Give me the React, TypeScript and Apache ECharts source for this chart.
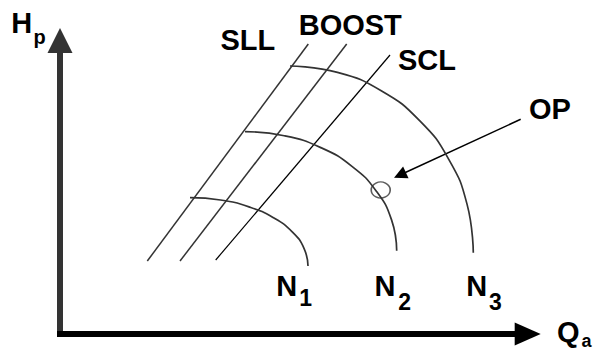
import React, { useEffect, useRef } from 'react';
import * as echarts from 'echarts';

// Schematic units: flow Q and head H, both 0..100 along the axes
const axisMax = 100;

// Surge-control lines (endpoints, bottom-left to top-right)
const lineNames = ['SLL', 'BOOST', 'SCL'];
const sllQ = [18.67, 53.09];
const sllH = [24.87, 98.81];
const boostQ = [25.66, 61.3];
const boostH = [24.87, 98.81];
const sclQ = [33.29, 70.56];
const sclH = [25.21, 95.06];

// Constant-speed curves N1, N2, N3
const speedMain = ['N', 'N', 'N'];
const speedSub = ['1', '2', '3'];
const n1Q = [27.8, 34.32, 40.41, 45.63, 49.65, 52.17, 53.03];
const n1H = [46.44, 45.66, 43.32, 39.63, 34.8, 29.2, 23.17];
const n2Q = [39.56, 47.95, 55.77, 62.49, 67.64, 70.89, 71.99];
const n2H = [68.93, 67.54, 63.5, 57.05, 48.65, 38.88, 28.38];
const n3Q = [49.18, 59.32, 68.77, 76.89, 83.12, 87.04, 88.37];
const n3H = [91.31, 89.14, 82.79, 72.68, 59.51, 44.16, 27.7];

// Operating point and its pointer arrow
const opLabel = 'OP';
const opQ = [68.57];
const opH = [49.06];
const arrowQ = [98.5, 72.68];
const arrowH = [73.15, 54.17];

// Axis titles
const yTitle = ['H', 'p'];
const xTitle = ['Q', 'a'];

const FONT = '"Liberation Sans", Arial, Helvetica, sans-serif';

const zip = (xs: number[], ys: number[]) => xs.map((x, i) => [x, ys[i]]);

function txt(text: string, x: number, baseline: number, fs: number) {
  return {
    type: 'text',
    x,
    y: baseline - 0.35 * fs,
    silent: true,
    style: {
      text,
      fill: '#000',
      font: `bold ${fs}px ${FONT}`,
      align: 'left',
      verticalAlign: 'middle',
    },
  };
}

export default function App() {
  const ref = useRef<HTMLDivElement>(null);

  useEffect(() => {
    document.body.style.margin = '0';
    if (!ref.current) return;
    const chart = echarts.init(ref.current, undefined, { renderer: 'svg' });

    const straight = (name: string, q: number[], h: number[], color: string, width: number) => ({
      name,
      type: 'line',
      data: zip(q, h),
      showSymbol: false,
      symbol: 'none',
      silent: true,
      lineStyle: { color, width },
    });
    const curve = (name: string, q: number[], h: number[]) => ({
      name,
      type: 'line',
      data: zip(q, h),
      smooth: true,
      showSymbol: false,
      symbol: 'none',
      silent: true,
      lineStyle: { color: '#333', width: 1.7 },
    });

    const option: any = {
      animation: false,
      backgroundColor: '#fff',
      grid: {
        left: 60,
        top: 40.5,
        width: 467.7,
        height: 293.5,
        containLabel: false,
        outerBoundsMode: 'none',
      },
      xAxis: {
        type: 'value',
        min: 0,
        max: axisMax,
        axisLine: {
          show: true,
          onZero: false,
          symbol: ['none', 'triangle'],
          symbolSize: [23, 26],
          lineStyle: { color: '#000', width: 6, cap: 'square' },
        },
        axisTick: { show: false },
        axisLabel: { show: false },
        splitLine: { show: false },
      },
      yAxis: {
        type: 'value',
        min: 0,
        max: axisMax,
        axisLine: {
          show: true,
          onZero: false,
          symbol: ['none', 'triangle'],
          symbolSize: [25, 25],
          lineStyle: { color: '#333', width: 6, cap: 'square' },
        },
        axisTick: { show: false },
        axisLabel: { show: false },
        splitLine: { show: false },
      },
      series: [
        straight(lineNames[0], sllQ, sllH, '#333', 1.5),
        straight(lineNames[1], boostQ, boostH, '#333', 1.5),
        straight(lineNames[2], sclQ, sclH, '#000', 1.2),
        curve('N1', n1Q, n1H),
        curve('N2', n2Q, n2H),
        curve('N3', n3Q, n3H),
        {
          name: opLabel,
          type: 'scatter',
          data: zip(opQ, opH),
          symbol: 'circle',
          symbolSize: [19, 16],
          silent: true,
          itemStyle: { color: 'rgba(0,0,0,0)', borderColor: '#333', borderWidth: 1.5 },
        },
        {
          name: 'arrow',
          type: 'lines',
          coordinateSystem: 'cartesian2d',
          silent: true,
          symbol: ['none', 'triangle'],
          symbolSize: [10, 13],
          lineStyle: { color: '#000', width: 1.5, opacity: 1 },
          data: [{ coords: zip(arrowQ, arrowH) }],
        },
      ],
      graphic: [
        txt(yTitle[0], 11.3, 33.3, 29),
        txt(yTitle[1], 33.5, 43.5, 20),
        txt(lineNames[0], 220.5, 50, 29),
        txt(lineNames[1], 298.7, 35, 29),
        txt(lineNames[2], 398, 70, 29),
        txt(opLabel, 529, 119.5, 29),
        txt(speedMain[0], 276.2, 296, 29),
        txt(speedSub[0], 299.2, 306.5, 23),
        txt(speedMain[1], 374.6, 296, 29),
        txt(speedSub[1], 398.3, 310, 23),
        txt(speedMain[2], 466.2, 296, 29),
        txt(speedSub[2], 489, 310, 23),
        txt(xTitle[0], 557, 342, 29),
        txt(xTitle[1], 581.5, 347, 18),
      ],
    };

    chart.setOption(option);
    return () => chart.dispose();
  }, []);

  return <div ref={ref} style={{ width: 594, height: 350 }} />;
}
